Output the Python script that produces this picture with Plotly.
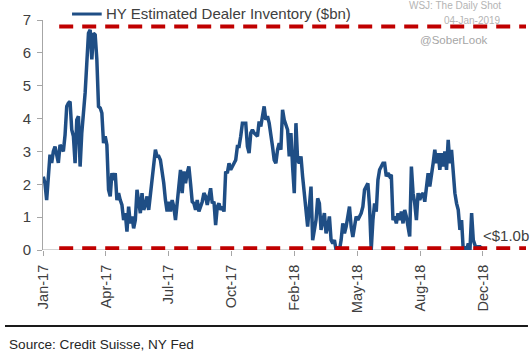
import plotly.graph_objects as go

# ---------------- data ----------------
inventory_2017a = [
    2.23, 2.03, 1.52, 2.23, 2.9, 2.65, 3.0, 3.15, 2.9, 2.65,
    3.2, 3.1, 3.0, 3.5, 4.37, 4.47, 4.52, 3.66, 3.46, 2.64,
    3.96, 4.07, 2.54, 3.56, 4.07, 4.78, 5.69, 6.6, 6.7, 5.8,
    6.6, 6.55, 5.8, 4.37, 4.32, 4.17, 3.25, 3.46, 3.2, 1.83,
    1.63, 2.34, 2.13, 2.34, 1.52, 1.73, 1.52, 1.37, 0.91, 1.12,
    0.56, 1.32, 0.81, 1.02, 0.66, 0.91, 1.83, 1.52, 1.12, 1.73,
    1.22, 1.37, 1.63, 1.22, 1.73, 2.03, 2.64, 3.05,
]
inventory_2017b = [
    2.85, 2.85, 2.74, 2.44, 2.03, 1.52, 1.17, 1.47, 1.17, 1.52,
    1.32, 0.91, 1.32, 1.93, 2.44, 1.73, 2.39, 2.03, 2.34, 2.54,
    2.03, 1.47, 1.42, 1.22, 1.52, 1.17, 1.32, 1.47, 1.73, 1.63,
    1.37, 1.63, 1.88, 1.42, 1.47, 0.76, 1.32, 1.42, 1.22, 1.32,
    1.17, 2.39, 2.34, 2.64, 2.44, 2.54, 2.64, 2.74, 3.15, 3.15,
    3.46, 3.86, 3.86, 3.86, 3.15, 2.95, 3.56, 3.66, 3.56, 3.5,
    3.46, 3.91, 3.76, 4.07, 4.37,
]
inventory_2018a = [
    3.96, 4.07, 3.86, 3.56, 3.15, 2.74, 2.64, 3.05, 3.25, 3.05,
    4.27, 3.96, 3.76, 3.66, 2.85, 3.56, 2.54, 1.73, 3.86, 2.74,
    2.64, 2.85, 2.23, 1.73, 1.02, 0.71, 1.32, 1.93, 0.3, 0.61,
    0.91, 1.57, 1.42, 0.61, 0.91, 1.12, 0.51, 0.71, 1.02, 0.3,
    0.2, 0.3, 0.0, 0.1, 0.0, 0.3, 0.81, 0.51, 0.71, 1.02,
    1.32, 0.71, 0.4, 0.71, 1.02, 0.91, 1.02, 1.12, 1.32, 1.83,
    1.93, 2.03, 1.32, 0.0, 0.91, 1.42,
]
inventory_2018b = [
    1.17, 2.13, 2.44, 2.54, 2.64, 2.64, 2.24, 2.34, 2.24, 2.29,
    0.91, 1.02, 0.81, 1.12, 0.91, 1.17, 0.81, 1.22, 1.02, 0.71,
    0.41, 2.54, 1.73, 1.42, 0.91, 1.73, 1.52, 1.68, 1.73, 1.47,
    1.93, 2.34, 1.93, 2.24, 2.64, 3.05, 2.64, 2.95, 2.44, 2.95,
    2.54, 3.0, 2.44, 3.35, 2.64, 3.05, 2.24, 1.73, 1.42, 1.22,
    0.61, 0.91, 0.0, 0.1, 0.0, 0.2, 0.0, 1.12, 0.3, 0.1,
    0.0, 0.1, 0.1, 0.05,
]
inventory = inventory_2017a + inventory_2017b + inventory_2018a + inventory_2018b
obs_index = list(range(len(inventory)))

tick_labels = ["Jan-17", "Apr-17", "Jul-17", "Oct-17", "Feb-18", "May-18", "Aug-18", "Dec-18"]
tick_step = 37.55
tick_start = -0.1
tick_positions = [tick_start + k * tick_step for k in range(len(tick_labels))]

upper_band = 6.8
lower_band = 0.05

series_name = "HY Estimated Dealer Inventory ($bn)"

# ---------------- figure ----------------
LINE_BLUE = "#1F4E85"
RED = "#C00000"
AXIS_GRAY = "#A6A6A6"
TEXT = "#404040"
FONT = "Liberation Sans, Arial, sans-serif"

fig = go.Figure()
fig.add_trace(go.Scatter(
    x=obs_index, y=inventory, mode="lines", name=series_name,
    line=dict(color=LINE_BLUE, width=3.5), showlegend=False,
))

n = len(inventory)
x_end = 289.1
for lvl in (upper_band, lower_band):
    fig.add_shape(type="line", xref="x", yref="y", x0=9.5, x1=288.5, y0=lvl, y1=lvl,
                  line=dict(color=RED, width=4, dash="14px,9px"), layer="above")

# x axis baseline
fig.add_shape(type="line", xref="x", yref="y", x0=-0.18, x1=n + 2, y0=0, y1=0,
              line=dict(color=AXIS_GRAY, width=1), layer="below")

# legend-like entry
fig.add_shape(type="line", xref="paper", yref="paper", x0=0.06, x1=0.1213, y0=1.026, y1=1.026,
              line=dict(color=LINE_BLUE, width=3))
fig.add_annotation(xref="paper", yref="paper", x=0.126, y=1.03, text=series_name,
                   showarrow=False, xanchor="left", yanchor="middle",
                   font=dict(family=FONT, size=15, color=TEXT))

# watermark texts
fig.add_annotation(xref="paper", yref="paper", x=0.951, y=1.065, text="WSJ: The Daily Shot",
                   showarrow=False, xanchor="right", yanchor="middle",
                   font=dict(family=FONT, size=10, color="#B4B4B4"))
fig.add_annotation(xref="paper", yref="paper", x=0.951, y=1.0, text="04-Jan-2019",
                   showarrow=False, xanchor="right", yanchor="middle",
                   font=dict(family=FONT, size=10, color="#B4B4B4"))
fig.add_annotation(xref="paper", yref="paper", x=0.775, y=0.913, text="@SoberLook",
                   showarrow=False, xanchor="left", yanchor="middle",
                   font=dict(family=FONT, size=11.5, color="#A6A6A6"))

# "<$1.0b" label
fig.add_annotation(xref="paper", yref="paper", x=0.905, y=0.065, text="&lt;$1.0b",
                   showarrow=False, xanchor="left", yanchor="middle",
                   font=dict(family=FONT, size=15, color=TEXT))

# bottom rule and source
fig.add_shape(type="line", xref="paper", yref="paper", x0=-0.0785, x1=1.002, y0=-0.330, y1=-0.330,
              line=dict(color="#1A1A1A", width=2))
fig.add_annotation(xref="paper", yref="paper", x=-0.0744, y=-0.413,
                   text="Source: Credit Suisse, NY Fed",
                   showarrow=False, xanchor="left", yanchor="middle",
                   font=dict(family=FONT, size=13.6, color="#262626"))

fig.update_layout(
    width=531, height=356,
    margin=dict(l=43, r=4, t=20, b=106, pad=0),
    paper_bgcolor="white", plot_bgcolor="white",
    font=dict(family=FONT, color=TEXT),
    hovermode=False,
    xaxis=dict(
        range=[-0.18, x_end], showgrid=False, zeroline=False, showline=False,
        tickmode="array", tickvals=tick_positions, ticktext=tick_labels,
        tickangle=-90, ticks="outside", ticklen=5, tickcolor=AXIS_GRAY,
        tickfont=dict(family=FONT, size=14.5, color=TEXT),
        ticklabelstandoff=3,
    ),
    yaxis=dict(
        range=[0, 7], dtick=1, showgrid=False, zeroline=False,
        showline=True, linecolor=AXIS_GRAY, linewidth=1,
        ticks="outside", ticklen=5, tickcolor=AXIS_GRAY,
        tickfont=dict(family=FONT, size=15, color=TEXT),
        ticklabelstandoff=3,
    ),
)

fig.write_html(
    "out.html",
    config={"displayModeBar": False},
    post_script="document.body.style.margin='0';document.body.style.padding='0';",
)
